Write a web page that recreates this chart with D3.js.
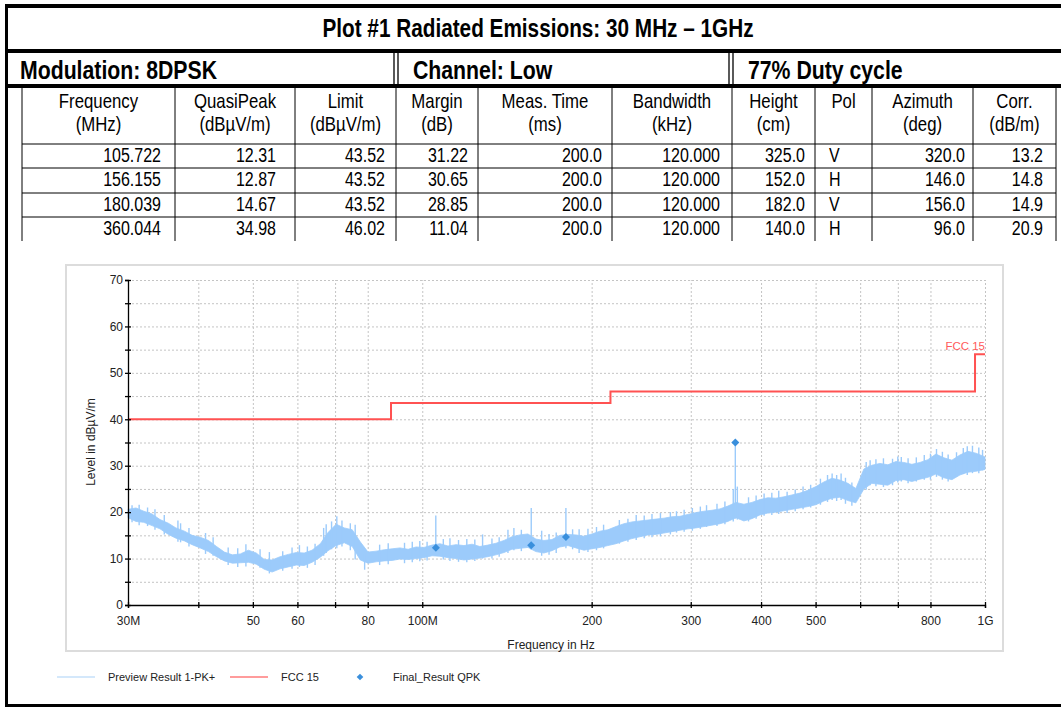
<!DOCTYPE html>
<html lang="en">
<head>
<meta charset="UTF-8">
<title>Plot #1 Radiated Emissions</title>
<style>
  body {
    margin: 0;
    background: #fff;
  }
  svg {
    display: block;
  }
  .narrow {
    font-family: "Liberation Sans Narrow", "Arial Narrow", "Liberation Sans", Arial, sans-serif;
    fill: #000;
  }
  .chart-text {
    font-family: "Liberation Sans", Arial, sans-serif;
    fill: #222;
  }
  .grid line {
    stroke: #c4c4c4;
    stroke-dasharray: 2, 2;
  }
  .grid path {
    display: none;
  }
</style>
</head>
<body>
<svg id="page" width="1061" height="707"></svg>

<script src="https://d3js.org/d3.v7.min.js"></script>
<script>
// ---- table data ----
const headerTop = ["Frequency", "QuasiPeak", "Limit", "Margin", "Meas. Time", "Bandwidth", "Height", "Pol", "Azimuth", "Corr."];
const headerBottom = ["(MHz)", "(dBµV/m)", "(dBµV/m)", "(dB)", "(ms)", "(kHz)", "(cm)", "", "(deg)", "(dB/m)"];

const qpFreq = [105.722, 156.155, 180.039, 360.044];
const qpLevel = [12.31, 12.87, 14.67, 34.98];
const qpLimit = [43.52, 43.52, 43.52, 46.02];
const qpMargin = [31.22, 30.65, 28.85, 11.04];
const measTime = [200.0, 200.0, 200.0, 200.0];
const bandwidth = [120.000, 120.000, 120.000, 120.000];
const antHeight = [325.0, 152.0, 182.0, 140.0];
const polarity = ["V", "H", "V", "H"];
const azimuth = [320.0, 146.0, 156.0, 96.0];
const corr = [13.2, 14.8, 14.9, 20.9];

// ---- chart data ----
// limit line: level starts at each edge and runs to the next one
const limitEdges = [30, 88, 216, 960, 1000];
const limitLevels = [40, 43.5, 46, 54, 54];

const xTickValues = [30, 40, 50, 60, 70, 80, 100, 200, 300, 400, 500, 600, 700, 800, 1000];
const xTickLabels = ["30M", "", "50", "60", "", "80", "100M", "200", "300", "400", "500", "", "", "800", "1G"];
const yTickValues = [0, 5, 10, 15, 20, 25, 30, 35, 40, 45, 50, 55, 60, 65, 70];

const traceFreq = [30, 31, 32, 33.1, 34.2, 35.4, 36.5, 37.8, 39, 40.3,
  41.7, 43.1, 44.5, 46, 47.5, 49.1, 50.7, 52.4, 54.1, 55.9,
  57.8, 59.7, 61.7, 63.7, 65.9, 68, 70.3, 72.7, 75.1, 77.6,
  80.1, 82.8, 85.6, 88.4, 91.3, 94.4, 97.5, 100.7, 104.1, 107.5,
  111.1, 114.8, 118.6, 122.6, 126.6, 130.8, 135.2, 139.7, 144.3, 149.1,
  154.1, 159.2, 164.5, 170, 175.6, 181.5, 187.5, 193.8, 200.2, 206.9,
  213.7, 220.9, 228.2, 235.8, 243.6, 251.8, 260.1, 268.8, 277.7, 287,
  296.5, 306.4, 316.6, 327.1, 338, 349.2, 360.8, 372.9, 385.3, 398.1,
  411.3, 425, 439.2, 453.8, 468.9, 484.5, 500.6, 517.3, 534.5, 552.3,
  570.6, 589.6, 609.3, 629.5, 650.5, 672.1, 694.5, 717.6, 741.5, 766.2,
  791.7, 818, 845.2, 873.4, 902.4, 932.5, 963.5, 1000];
const traceHi = [20.6, 20.9, 20.2, 19.6, 18.4, 17.6, 16.6, 15.9, 15.0, 14.6,
  13.9, 12.6, 11.4, 10.8, 11.0, 11.8, 11.2, 9.8, 9.7, 10.4,
  10.9, 11.3, 11.2, 11.8, 13.2, 15.6, 17.4, 16.6, 16.2, 13.6,
  11.4, 11.6, 11.9, 12.1, 12.3, 12.0, 12.5, 12.4, 12.9, 13.2,
  12.7, 13.0, 12.8, 13.1, 12.6, 12.9, 13.3, 13.9, 14.7, 15.1,
  15.3, 14.2, 13.9, 14.1, 15.0, 15.2, 15.1, 14.8, 15.3, 15.9,
  16.2, 16.9, 17.5, 17.9, 18.1, 18.3, 18.5, 18.7, 19.0, 19.1,
  19.5, 19.9, 20.2, 20.4, 20.7, 21.3, 22.1, 21.7, 22.1, 22.7,
  23.1, 23.0, 23.3, 23.7, 24.1, 24.7, 25.5, 26.5, 27.3, 26.9,
  26.2, 25.1, 29.3, 30.1, 30.5, 30.2, 30.9, 30.7, 30.3, 30.7,
  31.3, 32.5, 31.7, 31.2, 32.3, 33.1, 32.7, 31.9];
const traceLo = [18.8, 18.0, 17.8, 17.1, 16.4, 15.2, 14.4, 13.8, 13.0, 12.3,
  11.5, 10.4, 9.5, 9.0, 9.1, 9.2, 8.8, 7.7, 7.1, 7.8,
  8.2, 8.6, 8.5, 9.2, 10.3, 11.7, 12.8, 13.4, 12.6, 9.7,
  9.0, 9.3, 9.5, 9.6, 9.9, 9.8, 10.0, 10.2, 10.6, 10.5,
  10.2, 10.0, 9.7, 9.9, 10.1, 10.4, 10.8, 11.3, 12.0, 12.2,
  12.4, 11.5, 11.2, 11.7, 12.5, 12.8, 12.3, 11.8, 12.1, 12.4,
  12.8, 13.2, 13.8, 14.3, 14.7, 15.1, 15.2, 15.5, 15.8, 16.1,
  16.4, 16.6, 16.9, 17.2, 17.5, 18.0, 18.8, 18.1, 18.6, 19.4,
  19.8, 20.0, 20.3, 20.6, 20.9, 21.2, 21.6, 22.4, 23.0, 23.2,
  22.5, 22.0, 25.0, 26.2, 26.0, 25.8, 26.8, 27.0, 26.6, 27.1,
  27.5, 28.2, 27.4, 27.0, 28.0, 28.6, 28.8, 29.2];

// narrow spurs sticking out of the trace (above and below the band)
const spurFreq = [30.5, 31.4, 32.5, 33.5, 34.8, 36.8, 37.2, 38.5, 41.2, 42.5,
  45.2, 47, 48.6, 51.5, 53.5, 56.5, 58.7, 60.5, 62.5, 64.5,
  66.8, 67.5, 69, 70.5, 72, 74.5, 76, 79, 84, 87,
  93, 96, 99, 102, 105.7, 109, 112, 116, 120, 124,
  128, 133, 137, 142, 145.5, 150, 156.2, 163, 168, 173,
  180, 185, 190, 197, 204, 210, 224, 232, 240, 248,
  256, 265, 276, 283, 292, 302, 312, 320, 334, 345,
  357, 360, 363, 380, 392, 405, 418, 430, 445, 460,
  475, 490, 510, 525, 535, 545, 555, 565, 580, 615,
  625, 640, 660, 685, 700, 710, 730, 755, 780, 800,
  820, 840, 860, 890, 915, 930, 950, 975, 990];
const spurTop = [21.5, 21.6, 21.0, 20.6, 19.4, 18.2, 17.6, 16.6, 15.5, 14.6,
  12.4, 12.2, 13.1, 12.0, 11.4, 11.6, 12.4, 12.9, 12.6, 13.2,
  16.6, 17.4, 18.0, 19.1, 18.2, 17.6, 17.3, 11.0, 13.0, 13.3,
  13.4, 13.6, 13.8, 13.6, 19.3, 14.2, 14.4, 14.0, 14.2, 14.1,
  15.2, 14.3, 14.6, 16.2, 16.6, 16.2, 20.9, 16.0, 15.3, 15.6,
  20.9, 16.3, 16.3, 16.4, 16.8, 17.3, 18.3, 18.6, 19.4, 19.3,
  19.6, 19.8, 20.0, 20.2, 20.5, 20.9, 21.2, 21.5, 21.8, 22.3,
  25.0, 35.1, 25.5, 23.2, 23.6, 24.0, 24.2, 24.6, 24.4, 24.9,
  25.5, 25.9, 27.2, 28.0, 28.3, 28.0, 28.3, 27.4, 26.4, 30.8,
  31.2, 31.4, 31.6, 31.5, 32.0, 31.9, 31.6, 31.8, 32.3, 32.6,
  33.6, 33.0, 32.4, 32.9, 33.8, 34.2, 34.3, 33.9, 33.4];
const spurBottom = [17.8, 17.2, 17, 16.2, 15.2, 13.6, 13.5, 12.6, 11, 10.6,
  8.6, 8.2, 8.3, 8.0, 6.8, 7.4, 7.8, 8.2, 8.0, 8.6,
  10.6, 11.2, 12.0, 12.2, 12.6, 11.8, 9.8, 7.6, 8.6, 8.8,
  9.0, 9.2, 9.4, 9.6, 12.0, 9.8, 9.5, 9.3, 9.2, 9.5,
  10.0, 10.0, 10.4, 11.2, 11.8, 11.6, 11.9, 10.6, 10.8, 11.2,
  12.2, 12.0, 11.2, 11.4, 11.8, 12.2, 13.2, 13.6, 14.0, 14.4,
  14.6, 14.8, 15.2, 15.6, 15.8, 16.0, 16.4, 16.8, 17.0, 17.4,
  18.0, 18.6, 18.4, 18.0, 18.6, 19.2, 19.4, 19.6, 19.8, 20.2,
  20.6, 21.0, 21.6, 22.2, 22.6, 22.4, 22.6, 21.8, 21.4, 24.8,
  25.8, 25.6, 25.4, 25.8, 26.4, 26.6, 26.2, 26.6, 27.0, 27.0,
  27.6, 27.0, 26.6, 27.6, 28.2, 28.0, 28.4, 28.4, 29.0];

const svg = d3.select("#page");

// narrow face is not installed, so squeeze the regular one horizontally
function narrowText(parent, tx, ty, str, size, anchor, bold, squeeze) {
  return parent.append("text")
    .attr("class", "narrow")
    .attr("transform", `translate(${tx},${ty}) scale(${squeeze || 0.82},1)`)
    .attr("text-anchor", anchor)
    .attr("font-size", size + "px")
    .attr("font-weight", bold ? "bold" : "normal")
    .text(str);
}

// ---- outer frame and heading rows ----
const frame = svg.append("g");
frame.append("rect").attr("x", 5).attr("y", 4).attr("width", 1056).attr("height", 4);
frame.append("rect").attr("x", 5).attr("y", 4).attr("width", 3).attr("height", 703);
frame.append("rect").attr("x", 5).attr("y", 704).attr("width", 1056).attr("height", 3);
frame.append("rect").attr("x", 5).attr("y", 49).attr("width", 1056).attr("height", 4);
frame.append("rect").attr("x", 5).attr("y", 84).attr("width", 1056).attr("height", 4);
[394, 398, 729, 733].forEach(xx => {
  frame.append("line")
    .attr("x1", xx).attr("x2", xx).attr("y1", 53).attr("y2", 88)
    .attr("stroke", "#000").attr("stroke-width", 1.3);
});

narrowText(svg, 538, 37, "Plot #1 Radiated Emissions: 30 MHz – 1GHz", 25, "middle", true, 0.83);
narrowText(svg, 20, 79, "Modulation: 8DPSK", 25, "start", true, 0.85);
narrowText(svg, 413, 79, "Channel: Low", 25, "start", true, 0.85);
narrowText(svg, 748, 79, "77% Duty cycle", 25, "start", true, 0.85);

// ---- results table ----
const colEdges = [22, 175, 295, 396, 478, 612, 732, 815, 872, 973, 1056];
const rowLines = [144, 168, 193, 217];
const rowBase = [162, 186, 211, 235];
const table = svg.append("g");

colEdges.forEach(cx => {
  table.append("line")
    .attr("x1", cx).attr("x2", cx).attr("y1", 88).attr("y2", 241)
    .attr("stroke", "#000").attr("stroke-width", 1);
});
rowLines.forEach(ry => {
  table.append("line")
    .attr("x1", 22).attr("x2", 1056).attr("y1", ry).attr("y2", ry)
    .attr("stroke", "#000").attr("stroke-width", 1);
});

headerTop.forEach((h, i) => {
  const cx = (colEdges[i] + colEdges[i + 1]) / 2;
  narrowText(table, cx, 108, h, 20, "middle", false, 0.84);
  narrowText(table, cx, 131, headerBottom[i], 20, "middle", false, 0.84);
});

const f3 = d3.format(".3f"), f2 = d3.format(".2f"), f1 = d3.format(".1f");
const columns = [
  qpFreq.map(f3), qpLevel.map(f2), qpLimit.map(f2), qpMargin.map(f2),
  measTime.map(f1), bandwidth.map(f3), antHeight.map(f1), polarity,
  azimuth.map(f1), corr.map(f1)
];
const colPad = [14, 19, 11, 10, 10, 12, 10, 0, 8, 13];

columns.forEach((vals, c) => {
  vals.forEach((v, r) => {
    if (c === 7) {
      narrowText(table, colEdges[c] + 14, rowBase[r], v, 20, "start", false, 0.8);
    } else {
      narrowText(table, colEdges[c + 1] - colPad[c], rowBase[r], v, 20, "end", false, 0.8);
    }
  });
});

// ---- chart ----
svg.append("rect")
  .attr("x", 66).attr("y", 265).attr("width", 937).attr("height", 386)
  .attr("fill", "#fff").attr("stroke", "#dcdcdc").attr("stroke-width", 2);

const x = d3.scaleLog().domain([30, 1000]).range([128, 985]);
const y = d3.scaleLinear().domain([0, 70]).range([605, 280]);

// grid
svg.append("g").attr("class", "grid")
  .attr("transform", "translate(0,605)")
  .call(d3.axisBottom(x).tickValues(xTickValues.slice(1)).tickSize(-325).tickFormat(""));
svg.append("g").attr("class", "grid")
  .attr("transform", "translate(128,0)")
  .call(d3.axisLeft(y).tickValues(yTickValues.slice(1)).tickSize(-857).tickFormat(""));

// preview trace
const traceColor = "#9ccbfb";
const trace = traceFreq.map((f, i) => ({ f: f, hi: traceHi[i], lo: traceLo[i] }));
const band = d3.area()
  .x(d => x(d.f))
  .y0(d => y(d.lo))
  .y1(d => y(d.hi));
svg.append("path")
  .datum(trace)
  .attr("d", band)
  .attr("fill", traceColor)
  .attr("stroke", traceColor)
  .attr("stroke-width", 0.8);

svg.append("g").selectAll("line")
  .data(spurFreq)
  .enter().append("line")
  .attr("x1", d => x(d)).attr("x2", d => x(d))
  .attr("y1", (d, i) => y(spurTop[i]))
  .attr("y2", (d, i) => y(spurBottom[i]))
  .attr("stroke", traceColor).attr("stroke-width", 1.4);

// limit line
const limit = limitEdges.map((f, i) => ({ f: f, v: limitLevels[i] }));
svg.append("path")
  .datum(limit)
  .attr("d", d3.line().x(d => x(d.f)).y(d => y(d.v)).curve(d3.curveStepAfter))
  .attr("fill", "none")
  .attr("stroke", "#ff5252")
  .attr("stroke-width", 2);

svg.append("text")
  .attr("class", "chart-text")
  .attr("x", x(1000)).attr("y", y(54) - 4)
  .attr("text-anchor", "end")
  .attr("font-size", "11.5px")
  .style("fill", "#ff5a5a")
  .text("FCC 15");

// final QPK results
svg.append("g").selectAll("path")
  .data(qpFreq)
  .enter().append("path")
  .attr("d", d3.symbol().type(d3.symbolSquare).size(32))
  .attr("transform", (d, i) => `translate(${x(d)},${y(qpLevel[i])}) rotate(45)`)
  .attr("fill", "#3a8fdc");

// axes
const yAxis = svg.append("g")
  .attr("transform", "translate(128,0)")
  .call(d3.axisLeft(y).tickValues(yTickValues).tickSize(3).tickPadding(2)
    .tickFormat(d => d % 10 === 0 ? d : ""));
yAxis.selectAll(".tick line").attr("x1", 3);

const xAxis = svg.append("g")
  .attr("transform", "translate(0,605)")
  .call(d3.axisBottom(x).tickValues(xTickValues).tickSize(3).tickPadding(8)
    .tickFormat((d, i) => xTickLabels[i]));
xAxis.selectAll(".tick line").attr("y1", -3);

[yAxis, xAxis].forEach(ax => {
  ax.select(".domain").attr("stroke", "#000").attr("stroke-width", 1.3);
  ax.selectAll(".tick line").attr("stroke", "#000").attr("stroke-width", 1.3);
  ax.selectAll("text")
    .attr("class", "chart-text")
    .attr("font-size", "12px");
});

svg.append("text")
  .attr("class", "chart-text")
  .attr("x", 551).attr("y", 649)
  .attr("text-anchor", "middle")
  .attr("font-size", "12px")
  .text("Frequency in Hz");

svg.append("text")
  .attr("class", "chart-text")
  .attr("transform", "translate(95,442) rotate(-90)")
  .attr("text-anchor", "middle")
  .attr("font-size", "12px")
  .text("Level in dBµV/m");

// legend
const legend = svg.append("g").attr("class", "chart-text");
legend.append("line")
  .attr("x1", 57).attr("x2", 95).attr("y1", 677).attr("y2", 677)
  .attr("stroke", "#a9d1f7").attr("stroke-width", 1.2);
legend.append("text").attr("x", 108).attr("y", 681).attr("font-size", "11px")
  .text("Preview Result 1-PK+");
legend.append("line")
  .attr("x1", 230).attr("x2", 268).attr("y1", 677).attr("y2", 677)
  .attr("stroke", "#ff3b3b").attr("stroke-width", 1.2);
legend.append("text").attr("x", 281).attr("y", 681).attr("font-size", "11px")
  .text("FCC 15");
legend.append("path")
  .attr("d", d3.symbol().type(d3.symbolSquare).size(22))
  .attr("transform", "translate(360,677) rotate(45)")
  .attr("fill", "#3a8fdc");
legend.append("text").attr("x", 393).attr("y", 681).attr("font-size", "11px")
  .text("Final_Result QPK");
</script>
</body>
</html>
